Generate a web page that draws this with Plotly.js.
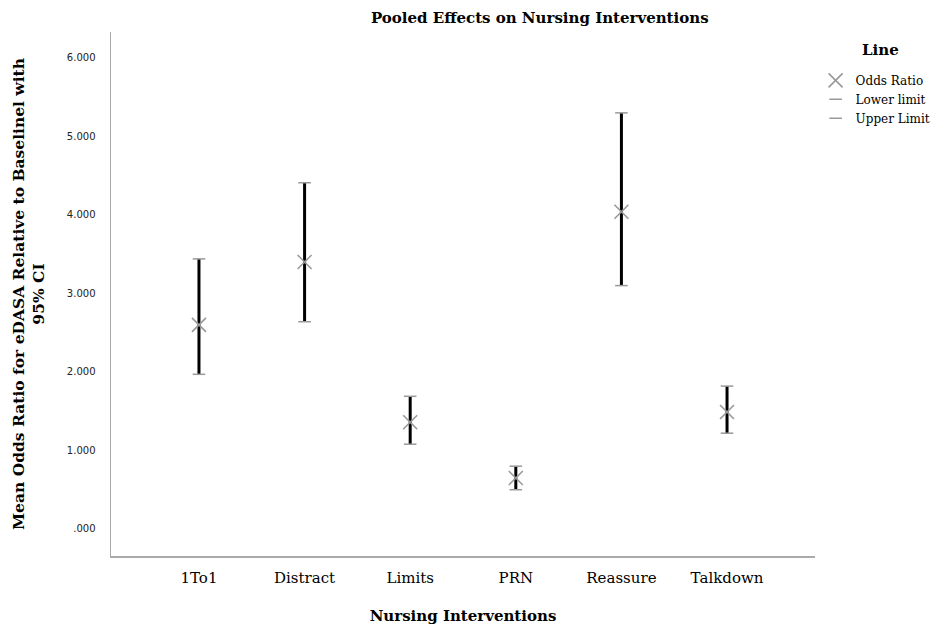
<!DOCTYPE html>
<html><head><meta charset="utf-8">
<script src="https://cdn.plot.ly/plotly-3.0.1.min.js"></script>
<style>body{margin:0;background:#fff}#chart{width:930px;height:627px}</style>
</head><body><div id="chart"></div>
<script>
const categories = ["1To1", "Distract", "Limits", "PRN", "Reassure", "Talkdown"];
const oddsRatio = [2.60, 3.40, 1.36, 0.65, 4.04, 1.49];
const lowerLimit = [1.97, 2.64, 1.08, 0.50, 3.10, 1.22];
const upperLimit = [3.44, 4.41, 1.69, 0.80, 5.30, 1.82];
const yTickVals = [0, 1, 2, 3, 4, 5, 6];
const yTickText = [".000", "1.000", "2.000", "3.000", "4.000", "5.000", "6.000"];

const lineX = [], lineY = [];
categories.forEach((c, i) => { lineX.push(c, c, null); lineY.push(lowerLimit[i], upperLimit[i], null); });

const serif = "DejaVu Serif, serif";
const traces = [
  {x: lineX, y: lineY, mode: "lines", line: {color: "#000", width: 3}, showlegend: false, hoverinfo: "skip"},
  {x: categories, y: oddsRatio, name: "Odds Ratio", mode: "markers",
   marker: {symbol: "x-thin-open", size: 14, color: "#999", line: {color: "#999", width: 1.6}}},
  {x: categories, y: lowerLimit, name: "Lower limit", mode: "markers",
   marker: {symbol: "line-ew-open", size: 9, color: "#999", line: {color: "#999", width: 1.5}}},
  {x: categories, y: upperLimit, name: "Upper Limit", mode: "markers",
   marker: {symbol: "line-ew-open", size: 9, color: "#999", line: {color: "#999", width: 1.5}}}
];

const layout = {
  width: 930, height: 627,
  margin: {l: 111, r: 115, t: 32, b: 71},
  paper_bgcolor: "#fff", plot_bgcolor: "#fff",
  font: {family: serif, color: "#000"},
  title: {text: "<b>Pooled Effects on Nursing Interventions</b>", font: {family: serif, size: 15, color: "#000"},
          x: 0.609, xref: "paper", xanchor: "center", y: 0.972, yref: "container", yanchor: "middle"},
  xaxis: {type: "category", range: [-0.833, 5.833], showgrid: false, zeroline: false,
          showline: true, linecolor: "#aaa", linewidth: 2, ticks: "", ticklabelstandoff: 7,
          tickfont: {family: serif, size: 15, color: "#000"},
          title: {text: "<b>Nursing Interventions</b>", font: {family: serif, size: 15, color: "#000"}, standoff: 24}},
  yaxis: {range: [-0.344, 6.33], showgrid: false, zeroline: false,
          showline: true, linecolor: "#aaa", linewidth: 1.5, ticks: "", ticklabelstandoff: 12,
          tickvals: yTickVals, ticktext: yTickText,
          tickfont: {family: "DejaVu Sans, sans-serif", size: 10, color: "#222"},
          title: {text: "<b>Mean Odds Ratio for eDASA Relative to Baselinel with<br>95% CI</b>",
                  font: {family: serif, size: 15.5, color: "#000"}, standoff: 18}},
  legend: {xref: "container", yref: "container", x: 0.877, xanchor: "left", y: 0.895, yanchor: "top",
           bgcolor: "rgba(0,0,0,0)",
           font: {family: serif, size: 12, color: "#000"}, itemwidth: 30, tracegroupgap: 0},
  annotations: [{text: "<b>Line</b>", xref: "paper", yref: "paper", x: (880 - 111) / 704, y: (556 - 50) / 524,
                 xanchor: "center", yanchor: "middle", showarrow: false,
                 font: {family: serif, size: 15, color: "#000"}}],
  showlegend: true
};
Plotly.newPlot("chart", traces, layout, {displayModeBar: false, staticPlot: true});
</script></body></html>
